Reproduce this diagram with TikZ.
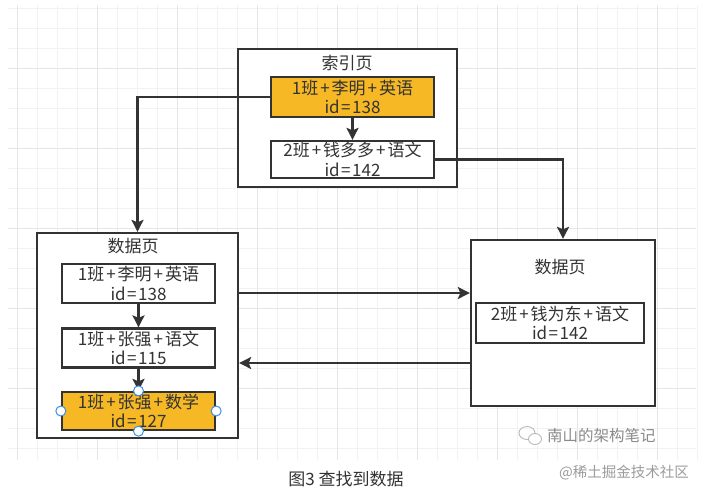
\documentclass[tikz,border=0pt]{standalone}
\usepackage{fontspec}
\setmainfont{Noto Sans CJK SC}
\usetikzlibrary{arrows.meta}
\definecolor{ink}{HTML}{333333}
\definecolor{orangefill}{HTML}{F6B824}
\definecolor{gridminor}{HTML}{F2F2F2}
\definecolor{gridmajor}{HTML}{E6E6E6}
\definecolor{handle}{HTML}{3D8EE6}
\definecolor{wm}{HTML}{8A8A8A}
\newcommand{\pl}{\kern2pt+\kern2pt}
\newcommand{\eqs}{\kern1.5pt=\kern1.5pt}
\begin{document}
\begin{tikzpicture}[x=1pt,y=-1pt,
  txt/.style={font=\fontsize{17}{19.5}\selectfont, text=ink, align=center, inner sep=0pt},
  page/.style={draw=ink, line width=2.3pt, fill=white, inner sep=0pt},
  rec/.style={draw=ink, line width=2.3pt, fill=white, txt},
  hot/.style={rec, fill=orangefill},
  arr/.style={draw=ink, line width=2.3pt, -{Stealth[length=12pt,width=12pt,inset=2.5pt]}},
  hnd/.style={circle, draw=handle, fill=white, line width=1pt, minimum size=10pt, inner sep=0pt},
]
\useasboundingbox (0,0) rectangle (704,499);
\fill[white] (0,0) rectangle (704,499);
% grid
\foreach \x in {17,37,...,697} {\draw[gridminor, line width=0.8pt] (\x,5) -- (\x,460);}
\foreach \y in {8,28,...,460} {\draw[gridminor, line width=0.8pt] (8,\y) -- (696,\y);}
\foreach \x in {17,97,...,697} {\draw[gridmajor, line width=0.8pt] (\x,5) -- (\x,460);}
\foreach \y in {68,148,...,460} {\draw[gridmajor, line width=0.8pt] (8,\y) -- (696,\y);}

% index page
\node[page, minimum width=219pt, minimum height=138pt] (index) at (347.5,118) {};
\node[txt] (indext) at (347,63) {索引页};
\node[hot, minimum width=163pt, minimum height=40pt] (io) at (352.5,97) {1班\pl 李明\pl 英语\\id\eqs 138};
\node[rec, minimum width=163pt, minimum height=37pt] (iw) at (352.5,159.5) {2班\pl 钱多多\pl 语文\\id\eqs 142};

% left data page
\node[page, minimum width=201pt, minimum height=205pt] (lp) at (137.5,335.5) {};
\node[txt] (lpt) at (133,246) {数据页};
\node[rec, minimum width=153pt, minimum height=39pt] (b1) at (138.5,283.5) {1班\pl 李明\pl 英语\\id\eqs 138};
\node[rec, minimum width=153pt, minimum height=39pt] (b2) at (138.5,348) {1班\pl 张强\pl 语文\\id\eqs 115};
\node[hot, minimum width=153pt, minimum height=38pt] (b3) at (138.5,411) {1班\pl 张强\pl 数学\\id\eqs 127};

% right data page
\node[page, minimum width=184pt, minimum height=166pt] (rp) at (563,323) {};
\node[txt] (rpt) at (560,267) {数据页};
\node[rec, minimum width=168pt, minimum height=40pt] (rb) at (560,323) {2班\pl 钱为东\pl 语文\\id\eqs 142};

% connectors
\draw[arr] (io) -- (iw);
\draw[arr] (b1) -- (b2);
\draw[arr] (b2) -- (b3);
\draw[arr] (io.west) -| (lp.north);
\draw[arr] (iw.east) -| (rp.north);
\coordinate (ya) at (0,293);
\coordinate (yb) at (0,363);
\draw[arr] (lp.east |- ya) -- (rp.west |- ya);
\draw[arr] (rp.west |- yb) -- (lp.east |- yb);

% selection handles
\node[hnd] (h1) at (b3.north) {};
\node[hnd] (h2) at (b3.south) {};
\node[hnd] (h3) at (b3.west) {};
\node[hnd] (h4) at (b3.east) {};

% caption
\node[txt] (cap) at (346,479) {图3 查找到数据};

% watermark
\draw[wm!60, line width=0.9pt] (527,433) ellipse (8pt and 6.5pt);
\draw[wm!60, line width=0.9pt, fill=white] (535,439) ellipse (6.5pt and 5.5pt);
\node[txt, text=wm, anchor=west, font=\fontsize{15.5}{18}\selectfont] (wm1) at (547,436) {南山的架构笔记};
\node[txt, text=wm!85, anchor=east, font=\fontsize{14.5}{17}\selectfont] (wm2) at (689,473) {@稀土掘金技术社区};
\end{tikzpicture}
\end{document}
